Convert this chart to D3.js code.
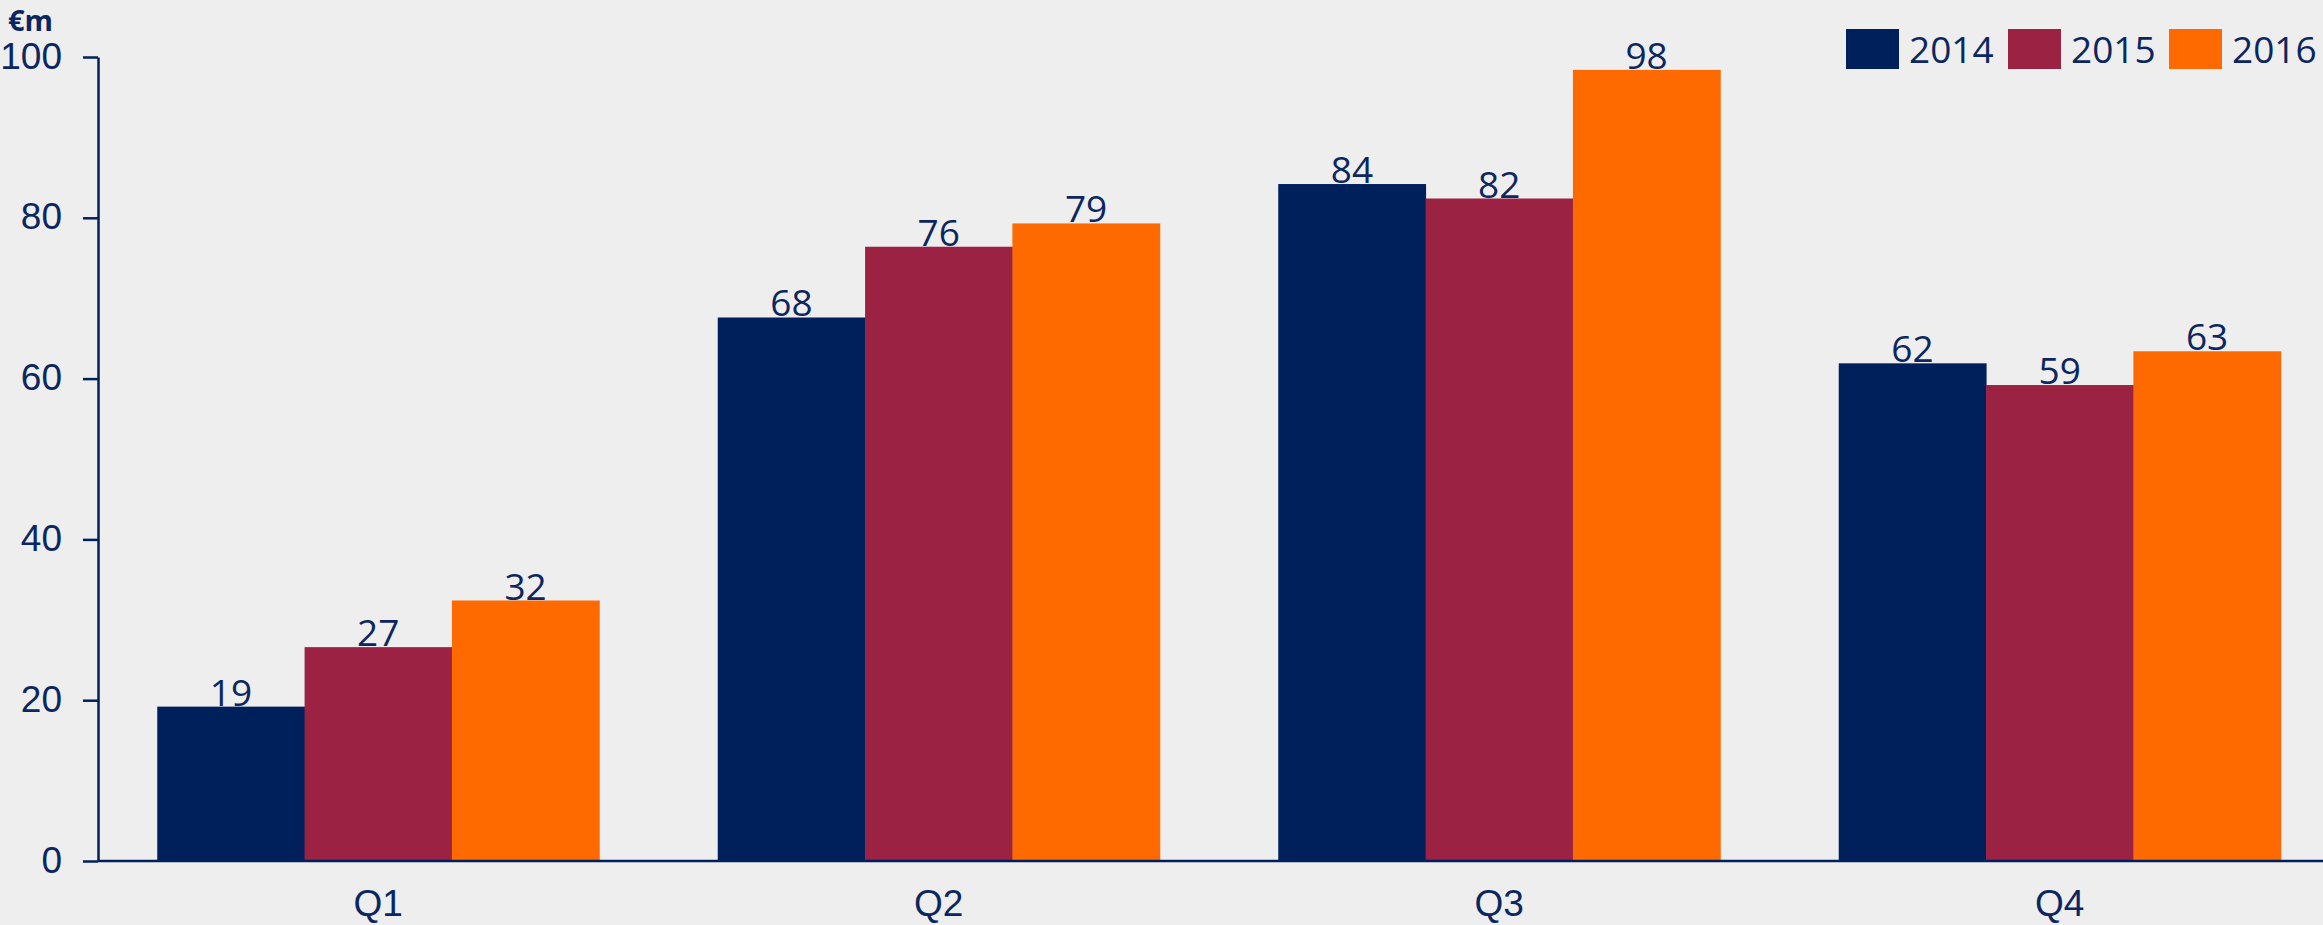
<!DOCTYPE html>
<html>
<head>
<meta charset="utf-8">
<script src="https://cdn.jsdelivr.net/npm/d3@7"></script>
<style>
  html, body { margin: 0; padding: 0; background: #eeeeee; }
  svg { display: block; font-family: "Open Sans", "Noto Sans", sans-serif; }
  .axis text { fill: #0b2660; }
</style>
</head>
<body>
<svg id="chart" width="2323" height="925"></svg>
<script>
var quarters = ["Q1", "Q2", "Q3", "Q4"];
var years = ["2014", "2015", "2016"];
var values2014 = [19.2, 67.6, 84.2, 61.9];
var values2015 = [26.6, 76.4, 82.4, 59.2];
var values2016 = [32.4, 79.3, 98.4, 63.4];
var yTicks = [0, 20, 40, 60, 80, 100];
var colors = ["#00205b", "#9b2242", "#ff6a00"];

var width = 2323, height = 925;
var margin = {top: 57, left: 98, bottom: 64};
var textColor = "#0b2660";
var fontSize = 37;

var series = [values2014, values2015, values2016];
var data = quarters.map(function(q, i) {
  return {q: q, vals: years.map(function(y, j) { return {year: y, value: series[j][i]}; })};
});

var svg = d3.select("#chart");

var x0 = d3.scaleBand().domain(quarters)
    .range([margin.left, margin.left + 4 * 560.5])
    .paddingInner(0.2114).paddingOuter(0.1057);
var x1 = d3.scaleBand().domain(years).range([0, x0.bandwidth()]);
var y = d3.scaleLinear().domain([0, 100]).range([height - margin.bottom, margin.top]);

// bars
var groups = svg.append("g").selectAll("g").data(data).enter().append("g")
    .attr("transform", function(d) { return "translate(" + x0(d.q) + ",0)"; });

groups.selectAll("rect").data(function(d) { return d.vals; }).enter().append("rect")
    .attr("x", function(d) { return x1(d.year); })
    .attr("y", function(d) { return y(d.value); })
    .attr("width", x1.bandwidth() + 0.5)
    .attr("height", function(d) { return y(0) - y(d.value); })
    .attr("fill", function(d, i) { return colors[i]; });

groups.selectAll("text").data(function(d) { return d.vals; }).enter().append("text")
    .attr("x", function(d) { return x1(d.year) + x1.bandwidth() / 2; })
    .attr("y", function(d) { return y(d.value) - 1; })
    .attr("text-anchor", "middle")
    .attr("font-size", fontSize)
    .attr("fill", textColor)
    .text(function(d) { return Math.round(d.value); });

// y axis
var yAxis = svg.append("g").attr("class", "axis")
    .attr("transform", "translate(" + margin.left + ",0)")
    .call(d3.axisLeft(y).tickValues(yTicks).tickSize(15).tickSizeOuter(0).tickPadding(21));
yAxis.selectAll("line, path").attr("stroke", "#00205b").attr("stroke-width", 2.5);
yAxis.selectAll("text").attr("font-size", fontSize).attr("dy", "0.3em");

// x baseline + labels
svg.append("line")
    .attr("x1", margin.left).attr("x2", width)
    .attr("y1", y(0)).attr("y2", y(0))
    .attr("stroke", "#00205b").attr("stroke-width", 2.5);

var xAxis = svg.append("g").attr("class", "axis")
    .attr("transform", "translate(0," + y(0) + ")")
    .call(d3.axisBottom(x0).tickSize(0).tickPadding(29));
xAxis.select(".domain").remove();
xAxis.selectAll("text").attr("font-size", fontSize);

// unit label
svg.append("text")
    .attr("x", 8).attr("y", 31)
    .attr("font-size", 29).attr("font-weight", "bold")
    .attr("fill", textColor)
    .text("€m");

// legend
var legendX = [1846, 2008, 2169];
var legend = svg.append("g").selectAll("g").data(years).enter().append("g")
    .attr("transform", function(d, i) { return "translate(" + legendX[i] + ",29)"; });
legend.append("rect").attr("width", 53).attr("height", 40)
    .attr("fill", function(d, i) { return colors[i]; });
legend.append("text").attr("x", 63).attr("y", 34)
    .attr("font-size", fontSize).attr("fill", textColor)
    .text(function(d) { return d; });
</script>
</body>
</html>
